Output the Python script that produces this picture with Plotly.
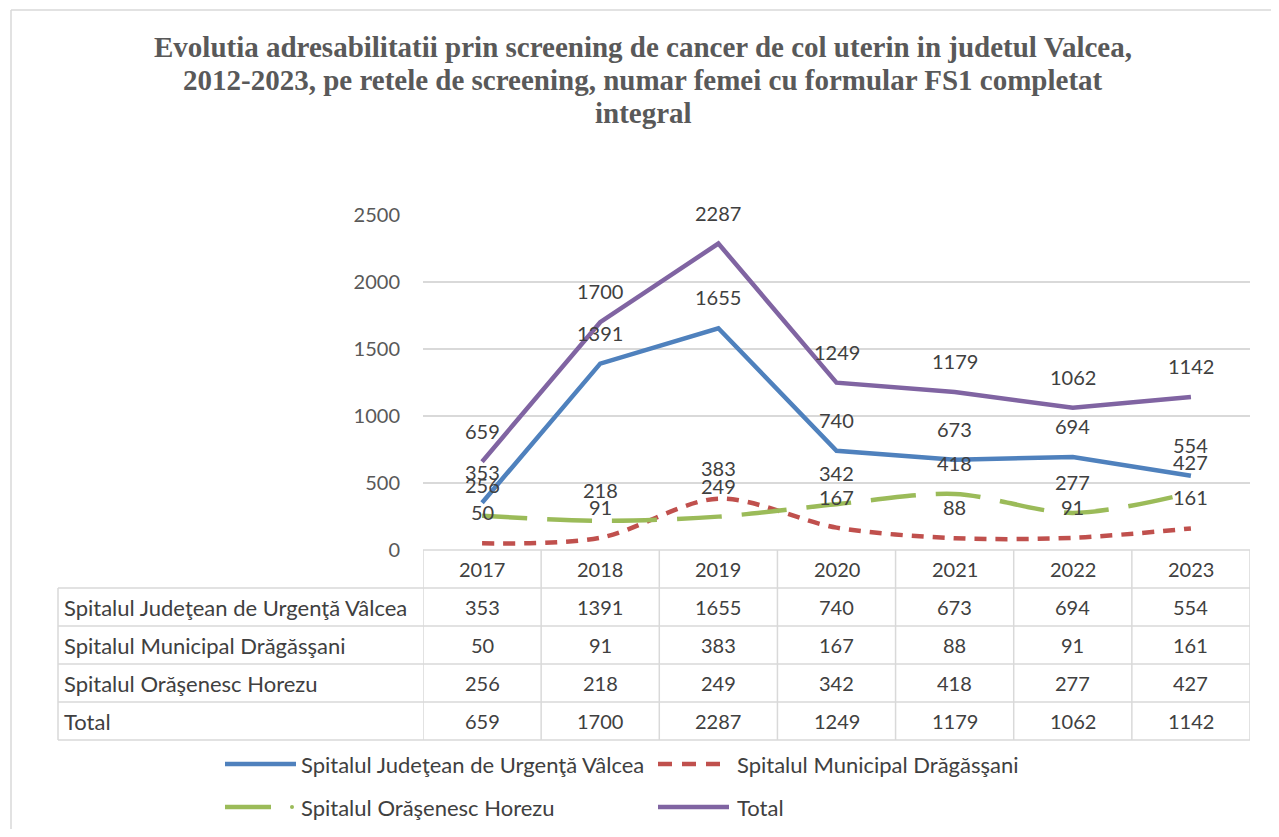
import plotly.graph_objects as go

years = ["2017", "2018", "2019", "2020", "2021", "2022", "2023"]
series_names = [
    "Spitalul Judeţean de Urgenţă Vâlcea",
    "Spitalul Municipal Drăgăsşani",
    "Spitalul Orăşenesc Horezu",
    "Total",
]
judetean = [353, 1391, 1655, 740, 673, 694, 554]
municipal = [50, 91, 383, 167, 88, 91, 161]
horezu = [256, 218, 249, 342, 418, 277, 427]
total = [659, 1700, 2287, 1249, 1179, 1062, 1142]
values = [judetean, municipal, horezu, total]

colors = ["#4F81BD", "#C0504D", "#9BBB59", "#8064A2"]
dashes = ["solid", "12px,9px", "45px,20px", "solid"]
shapes_line = ["linear", "spline", "spline", "linear"]

title_lines = [
    "Evolutia adresabilitatii prin screening de cancer de col uterin in judetul Valcea,",
    "2012-2023, pe retele de screening, numar femei cu formular FS1 completat",
    "integral",
]

# layout geometry (screen pixels; page body has an 8px margin)
OFF = 8
W, H = 1263, 821
L, R, T, B = 423, 1250, 215, 550


def px(x):
    return (x - L) / (R - L)


def py(y):
    return (B - y) / (B - T)


FONT = "Lato"
NAME_SIZE = 22
NUM_SIZE = 20
fig = go.Figure()
for name, vals, col, dsh, shp in zip(series_names, values, colors, dashes, shapes_line):
    fig.add_trace(go.Scatter(
        x=years, y=vals, mode="lines", name=name,
        line=dict(color=col, width=4.5, dash=dsh, shape=shp, smoothing=0.9),
        showlegend=False, hoverinfo="x+y+name",
    ))

annotations = []
# title lines
for ty, line in zip([47, 80, 113], title_lines):
    annotations.append(dict(x=px(643), y=py(ty), xref="paper", yref="paper", text="<b>" + line + "</b>",
                            showarrow=False, xanchor="center", yanchor="middle",
                            font=dict(family="Liberation Serif", size=29, color="#595959")))

# data labels above points
for vals in values:
    for i, v in enumerate(vals):
        annotations.append(dict(x=i, y=v, xref="x", yref="y", text=str(v), showarrow=False,
                                yshift=31, font=dict(family=FONT, size=NUM_SIZE, color="#404040")))

shapes = []
grid = dict(color="#D9D9D9", width=1.5)
# data table
row_lines = [550, 588, 626, 664, 702, 740]
for j, yy in enumerate(row_lines):
    x0 = L if j == 0 else 58
    shapes.append(dict(type="line", xref="paper", yref="paper", x0=px(x0), x1=px(R),
                       y0=py(yy), y1=py(yy), line=grid))
shapes.append(dict(type="line", xref="paper", yref="paper", x0=px(58), x1=px(58),
                   y0=py(588), y1=py(740), line=grid))
for k in range(len(years) + 1):
    shapes.append(dict(type="line", xref="x", yref="paper", x0=k - 0.5, x1=k - 0.5,
                       y0=py(550), y1=py(740), line=grid))

nfont = dict(family=FONT, size=NUM_SIZE, color="#404040")
tfont = dict(family=FONT, size=NAME_SIZE, color="#404040")
for i, yr in enumerate(years):
    annotations.append(dict(x=i, y=py(569), xref="x", yref="paper", text=yr, showarrow=False,
                            font=nfont, yanchor="middle"))
row_centers = [607, 645, 683, 721]
for name, vals, yc in zip(series_names, values, row_centers):
    annotations.append(dict(x=px(62), y=py(yc), xref="paper", yref="paper", text=name,
                            showarrow=False, xanchor="left", yanchor="middle", font=tfont))
    for i, v in enumerate(vals):
        annotations.append(dict(x=i, y=py(yc), xref="x", yref="paper", text=str(v),
                                showarrow=False, yanchor="middle", font=nfont))

# custom legend
leg = [
    (225, 296, 764, 299),
    (658, 724, 764, 735),
    (225, 271, 807, 299),
    (658, 729, 807, 735),
]
leg_dash = ["solid", "14px,10px", "solid", "solid"]
for (x0, x1, yy, tx), name, col, d in zip(leg, series_names, colors, leg_dash):
    shapes.append(dict(type="line", xref="paper", yref="paper", x0=px(x0), x1=px(x1),
                       y0=py(yy), y1=py(yy), line=dict(color=col, width=4.5, dash=d)))
    annotations.append(dict(x=px(tx), y=py(yy), xref="paper", yref="paper", text=name,
                            showarrow=False, xanchor="left", yanchor="middle", font=tfont))
# dot of the long-dash-dot legend symbol
shapes.append(dict(type="circle", xref="paper", yref="paper", x0=px(290), x1=px(294),
                   y0=py(805), y1=py(809), fillcolor=colors[2], line=dict(width=0)))

# outer chart border
shapes.append(dict(type="line", xref="paper", yref="paper", x0=px(11), x1=px(1300),
                   y0=py(10), y1=py(10), line=dict(color="#D9D9D9", width=1.5)))
shapes.append(dict(type="line", xref="paper", yref="paper", x0=px(11), x1=px(11),
                   y0=py(10), y1=py(860), line=dict(color="#D9D9D9", width=1.5)))

fig.update_layout(
    width=W, height=H,
    margin=dict(l=L - OFF, r=W - (R - OFF), t=T - OFF, b=H - (B - OFF), autoexpand=False),
    paper_bgcolor="white", plot_bgcolor="white",
    xaxis=dict(type="category", range=[-0.5, 6.5], showgrid=False, showticklabels=False,
               zeroline=False, showline=False, ticks=""),
    yaxis=dict(range=[0, 2500], dtick=500, showgrid=True, gridcolor="#D9D9D9", gridwidth=1.5,
               zeroline=False, showline=False, ticks="", ticklabelstandoff=22,
               tickfont=dict(family=FONT, size=NUM_SIZE, color="#595959")),
    shapes=shapes, annotations=annotations,
)

fig.write_html("out.html")
